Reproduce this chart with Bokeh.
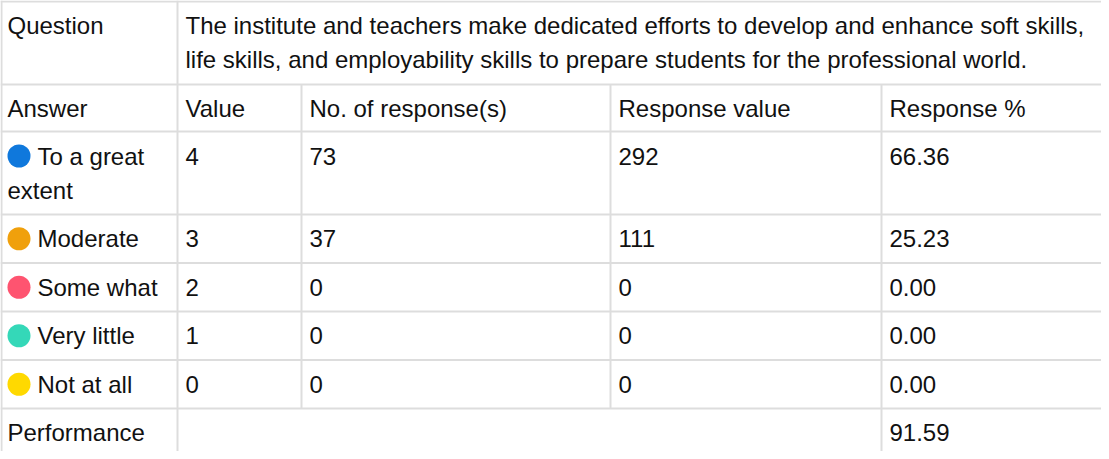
from bokeh.plotting import figure
from bokeh.models import Range1d, ColumnDataSource
from bokeh.core.properties import value
from bokeh.embed import file_html
from bokeh.resources import INLINE

# ---- data ----
question_label = "Question"
question_lines = [
    "The institute and teachers make dedicated efforts to develop and enhance soft skills,",
    "life skills, and employability skills to prepare students for the professional world.",
]
headers = ["Answer", "Value", "No. of response(s)", "Response value", "Response %"]
answers = ["To a great extent", "Moderate", "Some what", "Very little", "Not at all"]
answer_lines = [["To a great", "extent"], ["Moderate"], ["Some what"], ["Very little"], ["Not at all"]]
values = [4, 3, 2, 1, 0]
responses = [73, 37, 0, 0, 0]
response_values = [292, 111, 0, 0, 0]
percents = [66.36, 25.23, 0.00, 0.00, 0.00]
answer_colors = ["#0f78dc", "#f0a00c", "#fe5470", "#34d8b8", "#ffd900"]
performance_label = "Performance"
performance = 91.59

# ---- layout (figure pixel coordinates) ----
W, H = 1101, 451
col_x = [1, 177, 301, 610, 881]
q_top, q_bot = 0, 84
h_bot = 131
row_tops = [131, 214, 262.5, 311, 359.5]
row_bots = [214, 262.5, 311, 359.5, 408]
pad = 8
line_h = 34
FONT = value("Liberation Sans")
FS = "24px"
GRID = "#dddddd"

p = figure(width=W, height=H, output_backend="svg", toolbar_location=None,
           x_range=Range1d(0, W), y_range=Range1d(H, 0), min_border=0)
p.xaxis.visible = False
p.yaxis.visible = False
p.grid.visible = False
p.outline_line_color = None
p.background_fill_color = "white"
p.border_fill_color = "white"

# grid lines
hy = [1, q_bot, h_bot] + row_bots
p.segment(x0=[0] * len(hy), y0=hy, x1=[W] * len(hy), y1=hy, line_color=GRID, line_width=2)
vx0 = [col_x[0], col_x[1], col_x[2], col_x[3], col_x[4]]
vy0 = [0, 0, q_bot, q_bot, q_bot]
vy1 = [H, H, row_bots[-1], row_bots[-1], H]
p.segment(x0=vx0, y0=vy0, x1=vx0, y1=vy1, line_color=GRID, line_width=2)

tx, ty, tt = [], [], []

def add(x, y, t):
    tx.append(x); ty.append(y); tt.append(t)

# question row
add(col_x[0] + 6, q_top + 24.5, question_label)
for i, ln in enumerate(question_lines):
    add(col_x[1] + pad, q_top + 24.5 + i * line_h, ln)

# header row
hc = (q_bot + h_bot) / 2
for i, h in enumerate(headers):
    add(col_x[i] + (6 if i == 0 else pad), hc, h)

# data rows
cx, cy, cc = [], [], []
for r in range(len(answers)):
    top, bot = row_tops[r], row_bots[r]
    y0 = top + 24.5 if len(answer_lines[r]) > 1 else (top + bot) / 2
    cx.append(col_x[0] + 17.5); cy.append(y0); cc.append(answer_colors[r])
    for k, ln in enumerate(answer_lines[r]):
        xx = col_x[0] + 36 if k == 0 else col_x[0] + 6
        add(xx, y0 + k * line_h, ln)
    add(col_x[1] + pad, y0, str(values[r]))
    add(col_x[2] + pad, y0, str(responses[r]))
    add(col_x[3] + pad, y0, str(response_values[r]))
    add(col_x[4] + pad, y0, f"{percents[r]:.2f}")

# performance row
pc = row_bots[-1] + 23.5
add(col_x[0] + 6, pc, performance_label)
add(col_x[4] + pad, pc, f"{performance:.2f}")

p.scatter(x=cx, y=cy, size=23, fill_color=cc, line_color=None, marker="circle")

src = ColumnDataSource(dict(x=tx, y=ty, text=tt))
p.text(x="x", y="y", text="text", source=src, text_font=FONT, text_font_size=FS,
       text_color="#111111", text_baseline="middle", text_align="left")

open("out.html", "w").write(file_html(p, INLINE))
